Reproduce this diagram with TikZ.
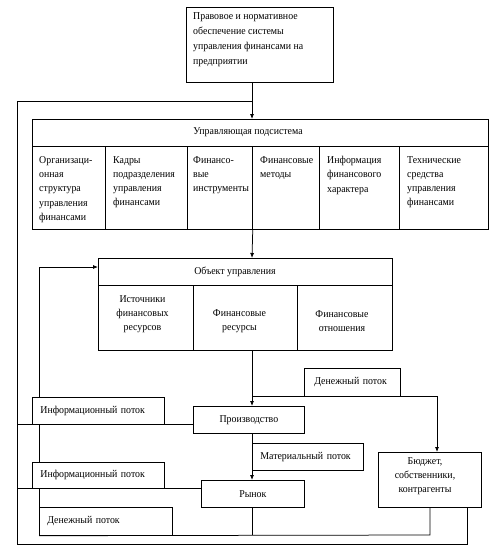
\documentclass[tikz,border=0pt]{standalone}
\usepackage{fontspec}
\setmainfont[FakeStretch=0.94]{Liberation Serif}
\usetikzlibrary{arrows.meta,backgrounds,calc}
\newcommand\dfont{\fontsize{10.5pt}{14.3pt}\selectfont}
\newcommand\tfont{\fontsize{10.5pt}{15.3pt}\selectfont}
\begin{document}
\begin{tikzpicture}[x=1pt,y=-1pt,
  box/.style={draw, fill=white, line width=0.75pt, inner sep=0pt, anchor=north west},
  txt/.style={inner sep=0pt, font=\dfont, align=left, anchor=north west},
  ctxt/.style={inner sep=0pt, font=\dfont, align=center},
  lbl/.style={box, font=\dfont, align=left, inner xsep=8pt},
  ln/.style={line width=0.75pt},
  arr/.style={ln, -{Latex[length=5pt,width=4pt]}}]
\useasboundingbox (0,0) rectangle (496,551);
% boxes
\node[box, minimum width=147pt, minimum height=75pt] (top) at (186,7) {};
\node[txt, font=\tfont] (topt) at (193,12) {Правовое и нормативное\\обеспечение системы\\управления финансами на\\предприятии};
\node[box, minimum width=456pt, minimum height=27pt] (uh) at (32,119) {};
\node[ctxt] (uht) at (248,132.5) {Управляющая подсистема};
\node[box, minimum width=73pt, minimum height=83pt] (c1) at (32,146) {};
\node[box, minimum width=82pt, minimum height=83pt] (c2) at (105,146) {};
\node[box, minimum width=65pt, minimum height=83pt] (c3) at (187,146) {};
\node[box, minimum width=67pt, minimum height=83pt] (c4) at (252,146) {};
\node[box, minimum width=80pt, minimum height=83pt] (c5) at (319,146) {};
\node[box, minimum width=89pt, minimum height=83pt] (c6) at (399,146) {};
\node[txt] (c1t) at (39,156) {Организаци-\\онная\\структура\\управления\\финансами};
\node[txt] (c2t) at (113,156) {Кадры\\подразделения\\управления\\финансами};
\node[txt] (c3t) at (193,156) {Финансо-\\вые\\инструменты};
\node[txt] (c4t) at (260,156) {Финансовые\\методы};
\node[txt] (c5t) at (327,156) {Информация\\финансового\\характера};
\node[txt] (c6t) at (407,156) {Технические\\средства\\управления\\финансами};
\node[box, minimum width=294pt, minimum height=27pt] (oh) at (98,258) {};
\node[ctxt] (oht) at (235,271.5) {Объект управления};
\node[box, minimum width=95pt, minimum height=65pt] (o1) at (98,285) {};
\node[box, minimum width=104pt, minimum height=65pt] (o2) at (193,285) {};
\node[box, minimum width=95pt, minimum height=65pt] (o3) at (297,285) {};
\node[ctxt] (o1t) at (142.5,314) {Источники\\финансовых\\ресурсов};
\node[ctxt] (o2t) at (239.5,321) {Финансовые\\ресурсы};
\node[ctxt] (o3t) at (342,321) {Финансовые\\отношения};
% connectors
\coordinate (xm) at (252,0);
\coordinate (jtop) at (252,101);
\coordinate (bl) at (17,544);
\coordinate (br) at (467,544);
\coordinate (fb) at (39,267);
\coordinate (jd) at (252,396);
\coordinate (jd2) at (437,396);
\coordinate (li1) at (17,424);
\coordinate (li2) at (17,488);
\coordinate (jb) at (252,535);
\coordinate (jb2) at (430,535);
\node[lbl, text width=76pt, minimum height=28pt, inner xsep=10pt] (dt) at (304,368) {Денежный поток};
\node[box, font=\dfont, minimum width=111pt, minimum height=27pt] (pr) at (193,406) {Производство};
\node[lbl, text width=116pt, minimum height=27pt] (i1) at (32,397) {Информационный поток};
\node[lbl, text width=95pt, minimum height=27pt] (mt) at (252,443) {Материальный поток};
\node[lbl, text width=116pt, minimum height=26pt] (i2) at (32,462) {Информационный поток};
\node[box, font=\dfont, minimum width=103pt, minimum height=27pt] (ry) at (201,480) {Рынок};
\node[box, minimum width=103pt, minimum height=55pt] (bud) at (378,452) {};
\node[ctxt] (budt) at (425,476) {Бюджет,\\собственники,\\контрагенты};
\node[lbl, text width=117pt, minimum height=28pt] (db) at (39,507) {Денежный поток};
\begin{pgfonlayer}{background}
\draw[arr] (top.south -| xm) -- (uh.north -| xm);
\draw[ln] (jtop) -| (bl) -- (br) -- (bud.south -| br);
\draw[arr] (c3.south east) -- (oh.north -| xm);
\draw[arr] (db.north west) -- (fb) -- (oh.west |- fb);
\draw[arr] (o2.south -| xm) -- (pr.north -| xm);
\draw[arr] (jd) -- (jd2) -- (bud.north -| jd2);
\draw[ln] (li1) -- (pr.west |- li1);
\draw[arr] (pr.south -| xm) -- (ry.north -| xm);
\draw[ln] (li2) -- (ry.west |- li2);
\draw[ln] (ry.south -| xm) -- (jb);
\draw[ln] (db.south west) -- (jb2) -- (bud.south -| jb2);
\end{pgfonlayer}
\end{tikzpicture}
\end{document}
